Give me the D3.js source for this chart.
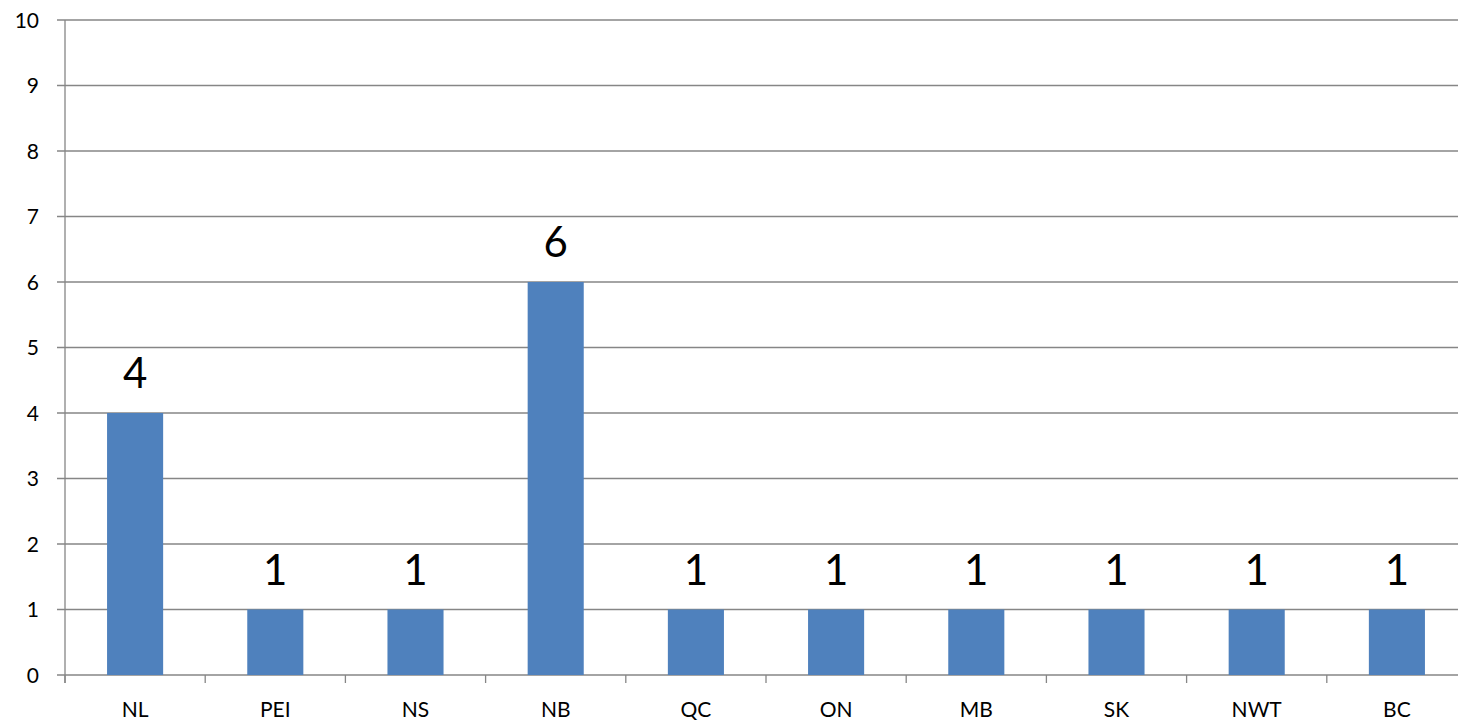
<!DOCTYPE html>
<html>
<head>
<meta charset="utf-8">
<script src="https://cdn.jsdelivr.net/npm/d3@7"></script>
<style>
  body { margin: 0; background: #fff; overflow: hidden; }
  text { font-family: Lato, "Open Sans", sans-serif; fill: #000; }
</style>
</head>
<body>
<div id="chart"></div>
<script>
const provinces = ["NL", "PEI", "NS", "NB", "QC", "ON", "MB", "SK", "NWT", "BC"];
const counts = [4, 1, 1, 6, 1, 1, 1, 1, 1, 1];
const yTicks = [0, 1, 2, 3, 4, 5, 6, 7, 8, 9, 10];

const BAR_COLOR = "#4f81bd";
const GRID_COLOR = "#868686";

let width = 1458, height = 725;
let margin = { left: 65, top: 20, right: -9, bottom: 50 };

let svg = d3.select("#chart").append("svg").attr("width", width).attr("height", height);

let x = d3.scaleBand().domain(provinces)
    .range([margin.left, width - margin.right])
    .paddingInner(0.6).paddingOuter(0.3);
let y = d3.scaleLinear().domain([0, 10]).range([height - margin.bottom, margin.top]);

// gridlines
svg.append("g").selectAll("line").data(yTicks).join("line")
    .attr("x1", margin.left - 8).attr("x2", width - margin.right)
    .attr("y1", d => y(d)).attr("y2", d => y(d))
    .attr("stroke", GRID_COLOR).attr("stroke-width", 1.3);

// y axis line
svg.append("line")
    .attr("x1", margin.left).attr("x2", margin.left)
    .attr("y1", y(10)).attr("y2", y(0) + 8)
    .attr("stroke", GRID_COLOR).attr("stroke-width", 1.3);

// x ticks at band edges
let edges = provinces.map(p => x(p) - x.step() * x.paddingInner() / 2);
svg.append("g").selectAll("line").data(edges).join("line")
    .attr("x1", d => d).attr("x2", d => d)
    .attr("y1", y(0)).attr("y2", y(0) + 8)
    .attr("stroke", GRID_COLOR).attr("stroke-width", 1.3);

// y labels
svg.append("g").selectAll("text").data(yTicks).join("text")
    .attr("x", 39).attr("y", d => y(d))
    .attr("dy", "0.36em")
    .attr("text-anchor", "end")
    .attr("font-size", "21px")
    .text(d => d);

// bars
svg.append("g").selectAll("rect").data(counts).join("rect")
    .attr("x", (d, i) => x(provinces[i]))
    .attr("y", d => y(d))
    .attr("width", x.bandwidth())
    .attr("height", d => y(0) - y(d))
    .attr("fill", BAR_COLOR);

// value labels
svg.append("g").selectAll("text").data(counts).join("text")
    .attr("x", (d, i) => x(provinces[i]) + x.bandwidth() / 2)
    .attr("y", d => y(d) - 25)
    .attr("text-anchor", "middle")
    .attr("font-size", "42px")
    .text(d => d);

// category labels
svg.append("g").selectAll("text").data(provinces).join("text")
    .attr("x", d => x(d) + x.bandwidth() / 2)
    .attr("y", 717)
    .attr("text-anchor", "middle")
    .attr("font-size", "21px")
    .text(d => d);
</script>
</body>
</html>
